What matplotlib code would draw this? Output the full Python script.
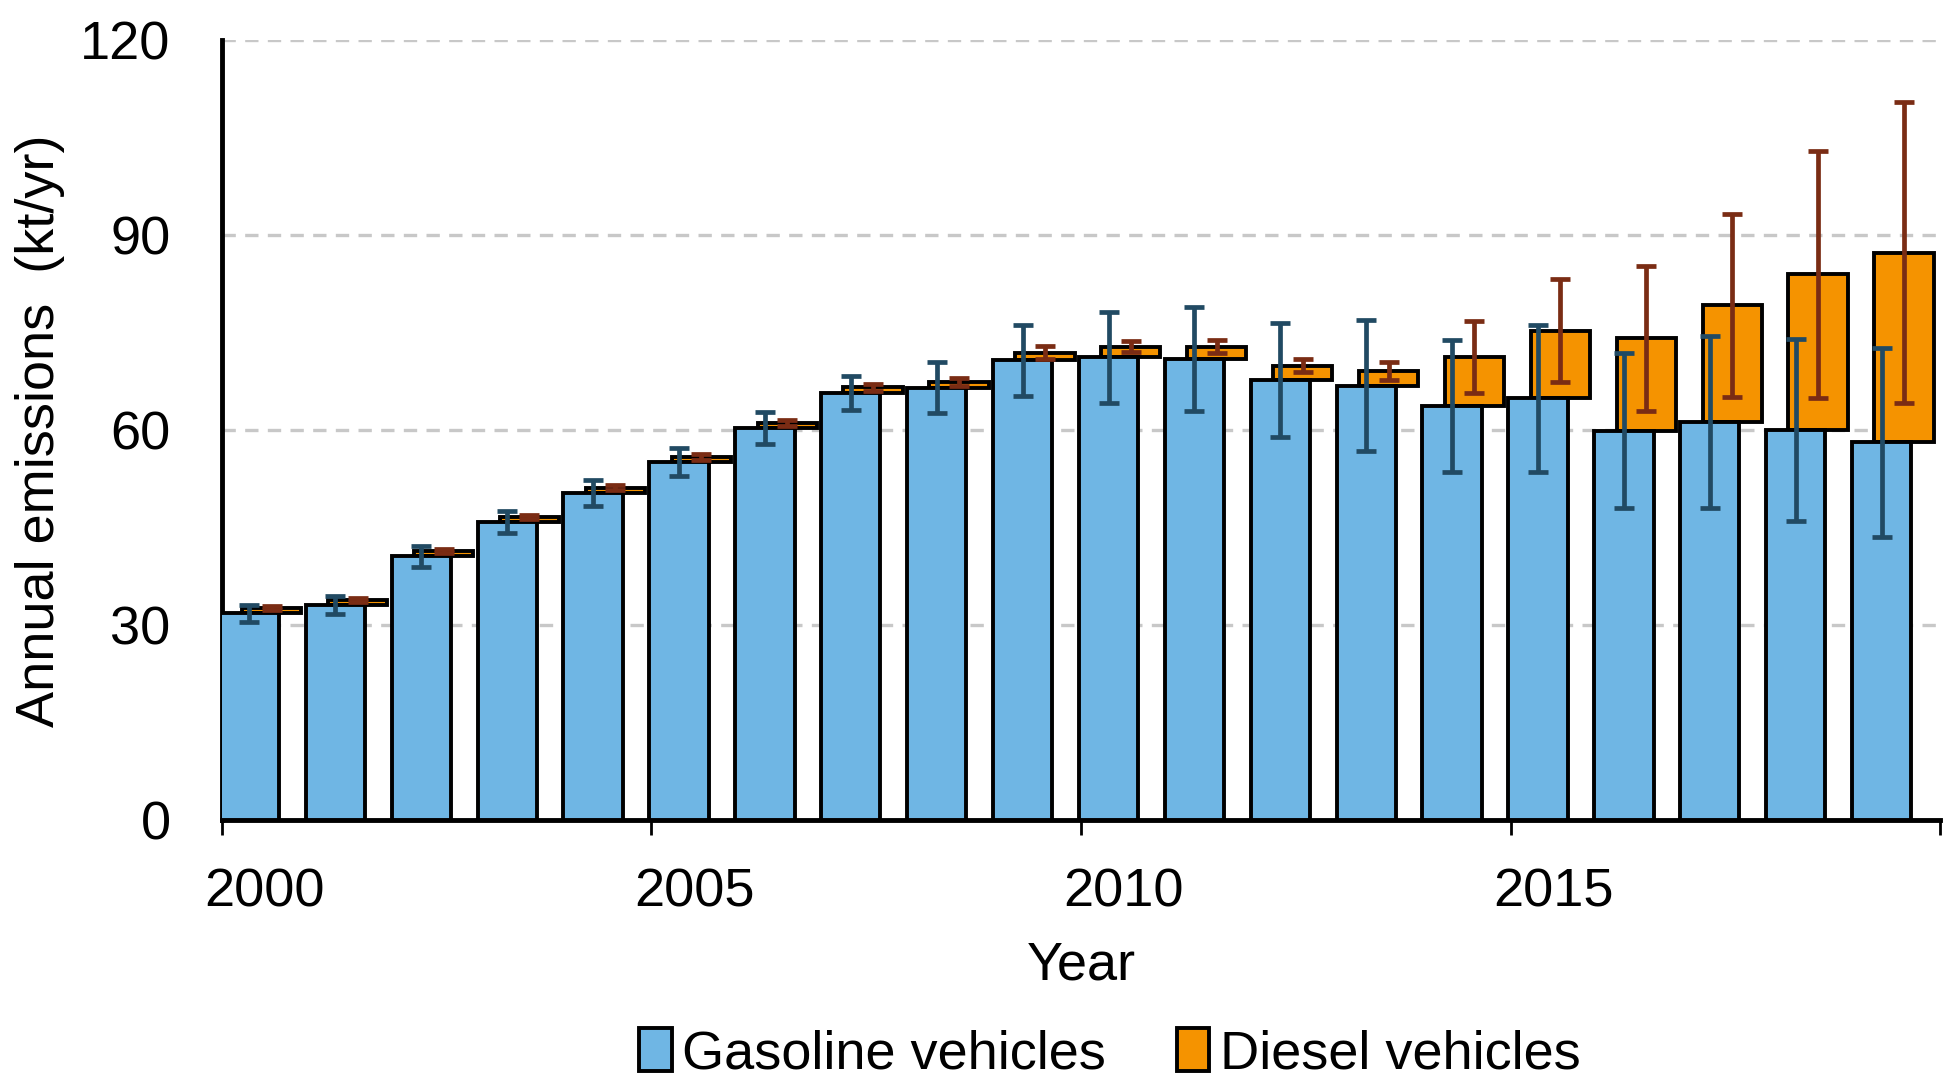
import matplotlib
matplotlib.use("Agg")
import matplotlib.pyplot as plt
import numpy as np

plt.rcParams['font.family'] = ['Liberation Sans', 'DejaVu Sans']

# values (kt/yr)
years = list(range(2000, 2020))
gasoline = [31.8, 33.1, 40.6, 45.8, 50.3, 55.1, 60.3, 65.7, 66.5, 70.7,
            71.2, 70.9, 67.7, 66.8, 63.7, 64.9, 59.9, 61.2, 60.0, 58.1]
gasoline_err = [1.3, 1.35, 1.6, 1.7, 2.0, 2.1, 2.4, 2.6, 3.9, 5.5,
                7.0, 8.0, 8.7, 10.1, 10.2, 11.3, 11.9, 13.2, 14.0, 14.5]
diesel = [0.8, 0.7, 0.8, 0.8, 0.8, 0.8, 0.8, 0.9, 0.9, 1.2,
          1.6, 1.9, 2.2, 2.3, 7.5, 10.4, 14.2, 18.0, 24.0, 29.2]
diesel_err = [0.3, 0.3, 0.3, 0.35, 0.4, 0.45, 0.5, 0.55, 0.6, 1.0,
              0.85, 1.0, 1.0, 1.4, 5.5, 7.9, 11.2, 14.1, 19.0, 23.2]

yticks = [0, 30, 60, 90, 120]
xtick_labels = ['2000', '2005', '2010', '2015']

blue = '#6FB6E4'
orange = '#F59300'
blue_err = '#214A63'
brown_err = '#7A2C14'

x = np.array(years, dtype=float)
gas = np.array(gasoline)
die = np.array(diesel)

fig = plt.figure(figsize=(19.52, 10.85), dpi=100)
ax = fig.add_axes([0.1137, 0.2442, 0.8802, 0.7189])

w = 0.69
xb = x + 0.32
xo = x + 0.58

# diesel bars sit on top of the gasoline bars, shifted right
ax.bar(xo, die, width=w, bottom=gas, color=orange, edgecolor='black', linewidth=2.8, zorder=2,
       label='Diesel vehicles')
ax.bar(xb, gas, width=w, color=blue, edgecolor='black', linewidth=2.8, zorder=3,
       label='Gasoline vehicles')

ax.errorbar(xb, gas, yerr=gasoline_err, fmt='none', ecolor=blue_err, elinewidth=3.4,
            capsize=7.5, capthick=3.4, zorder=4)
ax.errorbar(xo, gas + die, yerr=diesel_err, fmt='none', ecolor=brown_err, elinewidth=3.4,
            capsize=7.5, capthick=3.4, zorder=4)

ax.set_xlim(2000, 2020)
ax.set_ylim(0, 120)

ax.set_yticks(yticks)
ax.set_yticklabels([str(t) for t in yticks], fontsize=39)
ax.tick_params(axis='y', length=0, pad=37)

ax.set_xticks([2000, 2005, 2010, 2015, 2020])
ax.set_xticklabels([])
ax.tick_params(axis='x', which='major', length=11, width=2, direction='out', color='black')
ax.set_xticks([2000.5, 2005.5, 2010.5, 2015.5], minor=True)
ax.set_xticklabels(xtick_labels, minor=True, fontsize=39)
ax.tick_params(axis='x', which='minor', length=0, pad=34)

ax.yaxis.grid(True, color='#C8C8C8', linewidth=2.4, linestyle=(0, (4.0, 2.8)), zorder=0)
ax.set_axisbelow(True)

for s in ['top', 'right']:
    ax.spines[s].set_visible(False)
ax.spines['left'].set_linewidth(3.5)
ax.spines['bottom'].set_linewidth(3.5)

fig.text(0.0205, 0.6028, 'Annual emissions  (kt/yr)', rotation=90, ha='center', va='center', fontsize=39)
fig.text(0.554, 0.1097, 'Year', ha='center', va='center', fontsize=39)

handles, labels = ax.get_legend_handles_labels()
fig.legend(handles[::-1], labels[::-1], loc='center', bbox_to_anchor=(0.5686, 0.029), ncol=2,
           frameon=False, fontsize=39, handlelength=0.6, handleheight=0.85,
           handletextpad=0.2, columnspacing=1.3, borderaxespad=0, borderpad=0)

fig.savefig('out.png', dpi=100)
